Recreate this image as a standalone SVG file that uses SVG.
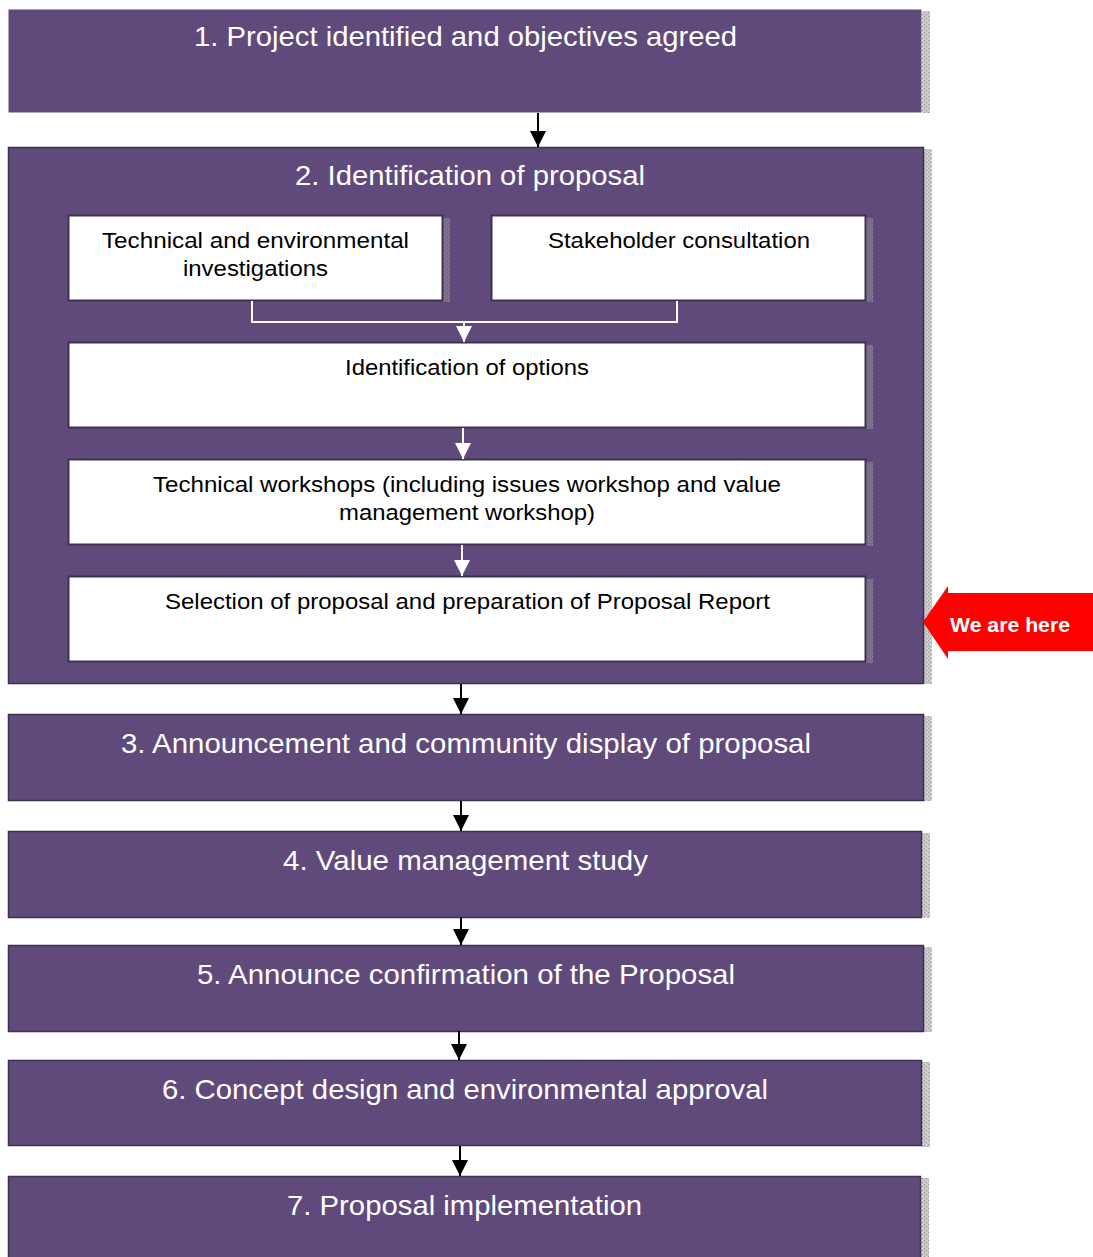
<svg xmlns="http://www.w3.org/2000/svg" width="1093" height="1257" viewBox="0 0 1093 1257">
<defs>
<pattern id="stip" width="4" height="4" patternUnits="userSpaceOnUse">
<rect width="4" height="4" fill="#c8c8c8"/>
<rect width="1" height="1" fill="#9a9a9a"/>
<rect x="2" y="2" width="1" height="1" fill="#9a9a9a"/>
<rect x="2" y="0" width="1" height="1" fill="#e4e4e4"/>
</pattern>
<pattern id="stip2" width="4" height="4" patternUnits="userSpaceOnUse">
<rect width="4" height="4" fill="#7a6a8a"/>
<rect width="1" height="1" fill="#948aa0"/>
<rect x="2" y="2" width="1" height="1" fill="#948aa0"/>
</pattern>
<marker id="ab" markerWidth="16" markerHeight="16" viewBox="0 0 16 16" refX="16" refY="8" orient="auto" markerUnits="userSpaceOnUse">
<path d="M0,0 L16,8 L0,16 Z" fill="#000"/>
</marker>
<marker id="aw" markerWidth="16" markerHeight="16" viewBox="0 0 16 16" refX="16" refY="8" orient="auto" markerUnits="userSpaceOnUse">
<path d="M0,0 L16,8 L0,16 Z" fill="#fff"/>
</marker>
</defs>
<style>
.stage{fill:#604a7b;stroke:#3f3151;stroke-width:1.5}
.inner{fill:#fff;stroke:#3f3151;stroke-width:2}
.sh{fill:url(#stip)}
.sh2{fill:url(#stip2)}
.t1{font-family:"Liberation Sans",Arial,sans-serif;font-size:28px;fill:#fff;text-anchor:middle}
.t2{font-family:"Liberation Sans",Arial,sans-serif;font-size:22px;fill:#000;text-anchor:middle}
.cb{stroke:#000;stroke-width:2;fill:none}
.cw{stroke:#fff;stroke-width:2;fill:none}
</style>

<g id="stage1">
<rect class="sh" x="922" y="11" width="8" height="102"/>
<rect class="stage" x="8.5" y="9.5" width="913" height="103" style="stroke:none"/>
<text class="t1" x="465.5" y="46" textLength="543" lengthAdjust="spacingAndGlyphs">1. Project identified and objectives agreed</text>
</g>

<g id="stage2">
<rect class="sh" x="924" y="149" width="8" height="535"/>
<rect class="stage" x="8.5" y="147.5" width="915" height="536"/>
<text class="t1" x="470" y="185" textLength="350" lengthAdjust="spacingAndGlyphs">2. Identification of proposal</text>
</g>

<g id="technical-investigations">
<rect class="sh2" x="443" y="218" width="7" height="84"/>
<rect class="inner" x="68.5" y="215.5" width="374" height="85"/>
<text class="t2" x="255.5" y="248" textLength="307" lengthAdjust="spacingAndGlyphs">Technical and environmental</text>
<text class="t2" x="255.5" y="276" textLength="145" lengthAdjust="spacingAndGlyphs">investigations</text>
</g>

<g id="stakeholder-consultation">
<rect class="sh2" x="866" y="218" width="7" height="84"/>
<rect class="inner" x="491.5" y="215.5" width="374" height="85"/>
<text class="t2" x="679" y="248" textLength="262" lengthAdjust="spacingAndGlyphs">Stakeholder consultation</text>
</g>

<g id="identification-options">
<rect class="sh2" x="866" y="345" width="7" height="84"/>
<rect class="inner" x="68.5" y="342.5" width="797" height="85"/>
<text class="t2" x="467" y="375" textLength="244" lengthAdjust="spacingAndGlyphs">Identification of options</text>
</g>

<g id="technical-workshops">
<rect class="sh2" x="866" y="462" width="7" height="84"/>
<rect class="inner" x="68.5" y="459.5" width="797" height="85"/>
<text class="t2" x="467" y="492" textLength="628" lengthAdjust="spacingAndGlyphs">Technical workshops (including issues workshop and value</text>
<text class="t2" x="467" y="520" textLength="256" lengthAdjust="spacingAndGlyphs">management workshop)</text>
</g>

<g id="selection-proposal">
<rect class="sh2" x="866" y="579" width="7" height="84"/>
<rect class="inner" x="68.5" y="576.5" width="797" height="85"/>
<text class="t2" x="467.5" y="609" textLength="605" lengthAdjust="spacingAndGlyphs">Selection of proposal and preparation of Proposal Report</text>
</g>

<g id="stage3">
<rect class="sh" x="924" y="716" width="8" height="85"/>
<rect class="stage" x="8.5" y="714.5" width="915" height="86"/>
<text class="t1" x="466" y="753" textLength="690" lengthAdjust="spacingAndGlyphs">3. Announcement and community display of proposal</text>
</g>

<g id="stage4">
<rect class="sh" x="922" y="833" width="8" height="85"/>
<rect class="stage" x="8.5" y="831.5" width="913" height="86"/>
<text class="t1" x="465.5" y="870" textLength="365" lengthAdjust="spacingAndGlyphs">4. Value management study</text>
</g>

<g id="stage5">
<rect class="sh" x="924" y="947" width="8" height="85"/>
<rect class="stage" x="8.5" y="945.5" width="915" height="86"/>
<text class="t1" x="466" y="984" textLength="538" lengthAdjust="spacingAndGlyphs">5. Announce confirmation of the Proposal</text>
</g>

<g id="stage6">
<rect class="sh" x="922" y="1062" width="8" height="85"/>
<rect class="stage" x="8.5" y="1060.5" width="913" height="85"/>
<text class="t1" x="465" y="1099" textLength="606" lengthAdjust="spacingAndGlyphs">6. Concept design and environmental approval</text>
</g>

<g id="stage7">
<rect class="sh" x="921" y="1178" width="8" height="79"/>
<rect class="stage" x="8.5" y="1176.5" width="912" height="85"/>
<text class="t1" x="464.5" y="1215" textLength="355" lengthAdjust="spacingAndGlyphs">7. Proposal implementation</text>
</g>

<g id="we-are-here">
<path d="M923,622 L948,586 L948,593 L1093,593 L1093,651 L948,651 L948,659 Z" fill="#ff0000"/>
<text x="1010" y="632" textLength="120" lengthAdjust="spacingAndGlyphs" style="font-family:'Liberation Sans',Arial,sans-serif;font-size:21px;font-weight:bold;fill:#fff;text-anchor:middle">We are here</text>
</g>

<g id="connectors">
<path class="cb" d="M538,113 L538,147" marker-end="url(#ab)"/>
<path class="cw" d="M252,301 L252,322 L677,322 L677,301"/>
<path class="cw" d="M464,322 L464,342" marker-end="url(#aw)"/>
<path class="cw" d="M463,428 L463,459" marker-end="url(#aw)"/>
<path class="cw" d="M462,545 L462,576" marker-end="url(#aw)"/>
<path class="cb" d="M461,684 L461,714" marker-end="url(#ab)"/>
<path class="cb" d="M461,801 L461,831" marker-end="url(#ab)"/>
<path class="cb" d="M461,917 L461,945" marker-end="url(#ab)"/>
<path class="cb" d="M459,1031 L459,1060" marker-end="url(#ab)"/>
<path class="cb" d="M460,1146 L460,1176" marker-end="url(#ab)"/>
</g>
</svg>
